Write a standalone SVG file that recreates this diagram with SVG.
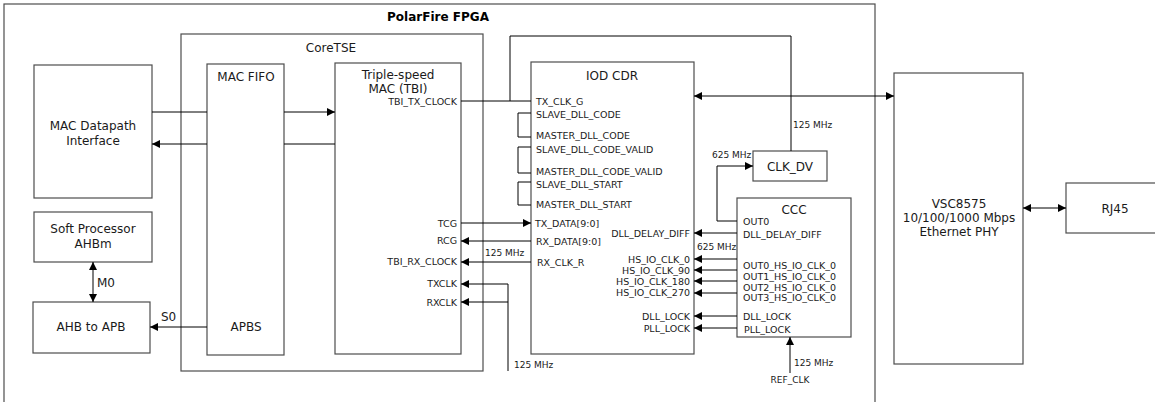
<svg xmlns="http://www.w3.org/2000/svg" width="1155" height="402" viewBox="0 0 1155 402">
<style>
.box{fill:#fff;stroke:#4d4d4d;stroke-width:1.2}
.frame{fill:none;stroke:#4d4d4d;stroke-width:1.2}
.t{font-family:"DejaVu Sans",Verdana,sans-serif;font-size:12px;fill:#1a1a1a}
.tb{font-family:"DejaVu Sans",Verdana,sans-serif;font-size:12px;font-weight:bold;fill:#000}
.p{font-family:"DejaVu Sans",Verdana,sans-serif;font-size:9.5px;fill:#1a1a1a}
.f{font-family:"DejaVu Sans",Verdana,sans-serif;font-size:9px;fill:#1a1a1a}
.c{fill:none;stroke:#000;stroke-width:1}
.m{text-anchor:middle}
.r{text-anchor:end}
</style>
<defs>
<marker id="a" viewBox="0 0 8 8" refX="8" refY="4" markerWidth="8" markerHeight="8" markerUnits="userSpaceOnUse" orient="auto-start-reverse">
<path d="M0,0 L8,4 L0,8 z" fill="#000"/>
</marker>
</defs>

<g id="fpga">
<rect class="frame" x="4" y="4" width="871" height="420"/>
<text class="tb m" x="438" y="21">PolarFire FPGA</text>
</g>

<g id="coretse">
<rect class="frame" x="181" y="34" width="302" height="337"/>
<text class="t m" x="331" y="52">CoreTSE</text>
</g>

<g id="mac-datapath">
<rect class="box" x="34" y="65" width="118" height="133"/>
<text class="t m" x="93" y="130">MAC Datapath</text>
<text class="t m" x="93" y="145">Interface</text>
</g>

<g id="soft-processor">
<rect class="box" x="34" y="212" width="118" height="50"/>
<text class="t m" x="93" y="233">Soft Processor</text>
<text class="t m" x="93" y="248">AHBm</text>
</g>

<g id="ahb-to-apb">
<rect class="box" x="33" y="302" width="117" height="51"/>
<text class="t m" x="91" y="331">AHB to APB</text>
</g>

<g id="mac-fifo">
<rect class="box" x="207" y="64" width="77" height="291"/>
<text class="t m" x="246" y="81">MAC FIFO</text>
<text class="t m" x="246" y="331">APBS</text>
</g>

<g id="tsmac">
<rect class="box" x="335" y="63" width="126" height="291"/>
<text class="t m" x="398" y="79">Triple-speed</text>
<text class="t m" x="398" y="93">MAC (TBI)</text>
<text class="p r" x="457" y="105">TBI_TX_CLOCK</text>
<text class="p r" x="457" y="227">TCG</text>
<text class="p r" x="457" y="244">RCG</text>
<text class="p r" x="457" y="265">TBI_RX_CLOCK</text>
<text class="p r" x="457" y="287">TXCLK</text>
<text class="p r" x="457" y="306">RXCLK</text>
</g>

<g id="iod-cdr">
<rect class="box" x="531" y="62" width="163" height="292"/>
<text class="t m" x="612" y="80">IOD CDR</text>
<text class="p" x="536" y="105">TX_CLK_G</text>
<text class="p" x="536" y="118">SLAVE_DLL_CODE</text>
<text class="p" x="536" y="139">MASTER_DLL_CODE</text>
<text class="p" x="536" y="153">SLAVE_DLL_CODE_VALID</text>
<text class="p" x="536" y="175">MASTER_DLL_CODE_VALID</text>
<text class="p" x="536" y="188">SLAVE_DLL_START</text>
<text class="p" x="536" y="208">MASTER_DLL_START</text>
<text class="p" x="535" y="227">TX_DATA[9:0]</text>
<text class="p" x="536" y="245">RX_DATA[9:0]</text>
<text class="p" x="537" y="266">RX_CLK_R</text>
<text class="p r" x="690" y="237">DLL_DELAY_DIFF</text>
<text class="p r" x="690" y="263">HS_IO_CLK_0</text>
<text class="p r" x="690" y="274">HS_IO_CLK_90</text>
<text class="p r" x="690" y="285">HS_IO_CLK_180</text>
<text class="p r" x="690" y="296">HS_IO_CLK_270</text>
<text class="p r" x="690" y="320">DLL_LOCK</text>
<text class="p r" x="690" y="332">PLL_LOCK</text>
</g>

<g id="clk-dv">
<rect class="box" x="753" y="151" width="74" height="30"/>
<text class="t m" x="790" y="171">CLK_DV</text>
</g>

<g id="ccc">
<rect class="box" x="737" y="198" width="114" height="139"/>
<text class="t m" x="794" y="214">CCC</text>
<text class="p" x="743" y="225">OUT0</text>
<text class="p" x="743" y="238">DLL_DELAY_DIFF</text>
<text class="p" x="743" y="269">OUT0_HS_IO_CLK_0</text>
<text class="p" x="743" y="280">OUT1_HS_IO_CLK_0</text>
<text class="p" x="743" y="291">OUT2_HS_IO_CLK_0</text>
<text class="p" x="743" y="301">OUT3_HS_IO_CLK_0</text>
<text class="p" x="743" y="320">DLL_LOCK</text>
<text class="p" x="744" y="333">PLL_LOCK</text>
</g>

<g id="phy">
<rect class="box" x="894" y="73" width="129" height="291"/>
<text class="t m" x="959" y="208">VSC8575</text>
<text class="t m" x="959" y="222">10/100/1000 Mbps</text>
<text class="t m" x="959" y="236">Ethernet PHY</text>
</g>

<g id="rj45">
<rect class="box" x="1066" y="183" width="100" height="50"/>
<text class="t m" x="1115" y="213">RJ45</text>
</g>

<g id="connectors">
<line class="c" x1="152" y1="112" x2="207" y2="112"/>
<line class="c" x1="284" y1="112" x2="335" y2="112" marker-end="url(#a)"/>
<line class="c" x1="335" y1="144" x2="284" y2="144"/>
<line class="c" x1="207" y1="144" x2="152" y2="144" marker-end="url(#a)"/>
<line class="c" x1="93" y1="262" x2="93" y2="302" marker-start="url(#a)" marker-end="url(#a)"/>
<line class="c" x1="207" y1="327" x2="150" y2="327" marker-end="url(#a)"/>
<line class="c" x1="461" y1="101" x2="531" y2="101"/>
<polyline class="c" points="510,101 510,36 791,36 791,151"/>
<line class="c" x1="461" y1="223" x2="531" y2="223" marker-end="url(#a)"/>
<line class="c" x1="531" y1="241" x2="461" y2="241" marker-end="url(#a)"/>
<line class="c" x1="531" y1="262" x2="461" y2="262" marker-end="url(#a)"/>
<polyline class="c" points="508,371 508,284 461,284" marker-end="url(#a)"/>
<line class="c" x1="508" y1="302" x2="461" y2="302" marker-end="url(#a)"/>
<polyline class="c" points="531,113 518,113 518,137 531,137"/>
<polyline class="c" points="531,147 518,147 518,173 531,173"/>
<polyline class="c" points="531,182 518,182 518,205 531,205"/>
<line class="c" x1="694" y1="96" x2="894" y2="96" marker-start="url(#a)" marker-end="url(#a)"/>
<line class="c" x1="737" y1="233" x2="694" y2="233" marker-end="url(#a)"/>
<line class="c" x1="737" y1="259" x2="694" y2="259" marker-end="url(#a)"/>
<line class="c" x1="737" y1="270" x2="694" y2="270" marker-end="url(#a)"/>
<line class="c" x1="737" y1="281" x2="694" y2="281" marker-end="url(#a)"/>
<line class="c" x1="737" y1="293" x2="694" y2="293" marker-end="url(#a)"/>
<line class="c" x1="737" y1="316" x2="694" y2="316" marker-end="url(#a)"/>
<line class="c" x1="737" y1="328" x2="694" y2="328" marker-end="url(#a)"/>
<polyline class="c" points="737,221 717,221 717,166 753,166" marker-end="url(#a)"/>
<line class="c" x1="790" y1="373" x2="790" y2="337" marker-end="url(#a)"/>
<line class="c" x1="1023" y1="208" x2="1066" y2="208" marker-start="url(#a)" marker-end="url(#a)"/>
<text class="f" x="161" y="321" style="font-size:12px">S0</text>
<text class="f" x="97" y="287" style="font-size:12px">M0</text>
<text class="f" x="793" y="128">125 MHz</text>
<text class="f" x="485" y="256">125 MHz</text>
<text class="f" x="514" y="368">125 MHz</text>
<text class="f" x="697" y="250">625 MHz</text>
<text class="f" x="712" y="158">625 MHz</text>
<text class="f" x="794" y="366">125 MHz</text>
<text class="f m" x="790" y="383">REF_CLK</text>
</g>
</svg>
